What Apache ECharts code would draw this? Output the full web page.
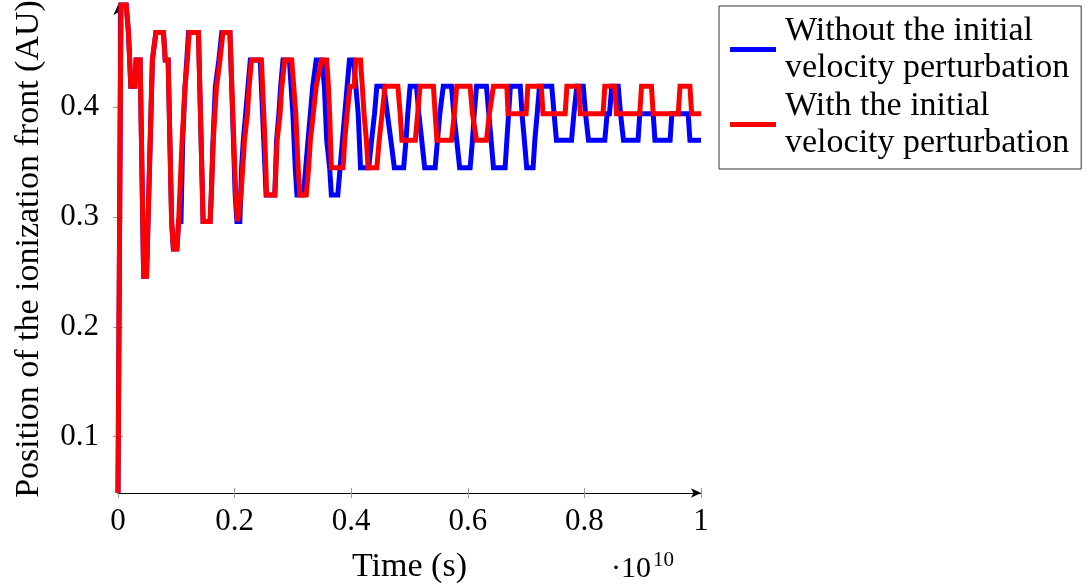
<!DOCTYPE html>
<html>
<head>
<meta charset="utf-8">
<script src="https://cdn.jsdelivr.net/npm/echarts@6/dist/echarts.min.js"></script>
<style>
html,body{margin:0;padding:0;background:#fff;}
#chart{width:1087px;height:588px;}
</style>
</head>
<body>
<div id="chart"></div>
<script>
// Time values in units of 1e8 s
const TIME_UNIT = 1e8;

const redTimes = [0,0.5,1.4,1.8,2.0,2.2,2.9,3.1,3.8,4.4,4.9,5.9,6.5,7.8,8.1,8.6,9.2,9.5,10.1,10.4,11.0,11.5,11.9,12.2,13.8,14.6,15.8,16.0,16.35,16.9,17.5,18.0,19.2,20.2,20.5,20.8,21.1,21.4,21.7,22.2,22.5,22.9,24.6,25.2,25.5,26.9,27.3,27.8,28.1,28.6,29.8,30.5,30.9,31.2,32.3,32.7,33.0,33.5,34.0,34.9,35.8,36.1,36.3,36.6,38.6,38.9,39.3,39.8,40.5,40.8,41.6,41.9,42.2,42.6,42.9,44.4,44.8,45.3,45.8,48.0,48.4,48.7,51.0,51.4,51.8,54.1,54.4,54.7,57.2,57.7,58.1,60.4,60.8,61.5,63.2,63.7,64.4,66.7,66.9,70.0,70.3,72.6,72.9,76.7,77.0,79.0,79.3,83.2,83.5,85.2,85.5,89.5,89.8,91.5,91.8,96.1,96.4,98.1,98.4,100];
const redValues = [0.049,0.493,0.493,0.468,0.443,0.419,0.419,0.443,0.443,0.246,0.246,0.443,0.468,0.468,0.443,0.443,0.296,0.271,0.271,0.296,0.370,0.419,0.443,0.468,0.468,0.296,0.296,0.320,0.370,0.419,0.443,0.468,0.468,0.320,0.296,0.296,0.320,0.345,0.370,0.394,0.419,0.443,0.443,0.370,0.320,0.320,0.370,0.394,0.419,0.443,0.443,0.394,0.345,0.320,0.320,0.345,0.370,0.394,0.419,0.443,0.443,0.419,0.394,0.345,0.345,0.370,0.394,0.419,0.419,0.443,0.443,0.419,0.394,0.370,0.345,0.345,0.370,0.394,0.419,0.419,0.394,0.370,0.370,0.394,0.419,0.419,0.394,0.370,0.370,0.394,0.419,0.419,0.394,0.370,0.370,0.394,0.419,0.419,0.394,0.394,0.419,0.419,0.394,0.394,0.419,0.419,0.394,0.394,0.419,0.419,0.394,0.394,0.419,0.419,0.394,0.394,0.419,0.419,0.394,0.394];

const blueTimes = [0,0.5,1.4,1.8,2.0,2.2,2.9,3.1,3.8,4.4,4.9,5.9,6.5,7.8,8.1,8.6,9.2,9.5,10.1,10.4,10.8,11.1,11.5,11.8,12.1,13.8,14.6,15.8,16.0,16.3,16.7,17.3,17.8,19.2,20.1,20.4,20.9,21.2,21.5,21.9,22.3,22.7,24.4,25.0,25.4,26.9,27.2,27.6,27.9,28.3,29.4,30.0,30.4,30.7,31.8,32.2,32.6,33.0,33.4,34.0,35.0,35.4,35.8,36.3,36.6,37.7,38.1,38.5,38.9,39.3,39.7,40.4,40.8,41.2,41.6,43.0,43.5,44.0,44.4,45.6,46.2,46.8,47.4,49.0,49.4,49.7,50.1,51.2,51.6,52.1,52.6,54.4,54.8,55.2,55.8,57.2,57.6,58.1,58.6,60.4,60.8,61.1,61.5,63.2,63.6,64.0,64.4,66.4,66.7,67.0,67.3,69.0,69.3,69.7,70.1,71.2,71.5,71.9,72.3,74.4,74.8,75.2,77.8,78.2,78.7,79.8,80.2,80.7,83.5,83.9,84.3,84.7,85.8,86.2,86.7,89.2,89.5,91.8,92.1,94.7,95.0,97.8,98.1,100];
const blueValues = [0.049,0.493,0.493,0.468,0.443,0.419,0.419,0.443,0.443,0.246,0.246,0.443,0.468,0.468,0.443,0.443,0.296,0.271,0.271,0.296,0.296,0.370,0.419,0.443,0.468,0.468,0.296,0.296,0.320,0.370,0.419,0.443,0.468,0.468,0.320,0.296,0.296,0.345,0.370,0.394,0.419,0.443,0.443,0.370,0.320,0.320,0.370,0.394,0.419,0.443,0.443,0.394,0.345,0.320,0.320,0.345,0.370,0.394,0.419,0.443,0.443,0.419,0.370,0.345,0.320,0.320,0.345,0.370,0.394,0.419,0.443,0.443,0.419,0.394,0.345,0.345,0.370,0.394,0.419,0.419,0.394,0.370,0.345,0.345,0.370,0.394,0.419,0.419,0.394,0.370,0.345,0.345,0.370,0.394,0.419,0.419,0.394,0.370,0.345,0.345,0.370,0.394,0.419,0.419,0.394,0.370,0.345,0.345,0.370,0.394,0.419,0.419,0.394,0.370,0.345,0.345,0.370,0.394,0.419,0.419,0.394,0.370,0.370,0.394,0.419,0.419,0.394,0.370,0.370,0.394,0.394,0.419,0.419,0.394,0.370,0.370,0.394,0.394,0.370,0.370,0.394,0.394,0.370,0.370];

const seriesNames = ['Without the initial\nvelocity perturbation', 'With the initial\nvelocity perturbation'];
const xTickLabels = ['0', '0.2', '0.4', '0.6', '0.8', '1'];
const yTickValues = [0.1, 0.2, 0.3, 0.4];
const yTickLabels = ['0.1', '0.2', '0.3', '0.4'];

const FONT = '"Liberation Serif", "Times New Roman", serif';

function pairs(ts, vs) { return ts.map((t, i) => [t * TIME_UNIT, vs[i]]); }

const chart = echarts.init(document.getElementById('chart'), null, {renderer: 'canvas'});

const tickStyle = {color: '#9a9a9a', width: 1};

chart.setOption({
  animation: false,
  backgroundColor: '#fff',
  grid: {left: 118, right: 386, top: 5, bottom: 95, containLabel: false, outerBoundsMode: 'none'},
  legend: {
    orient: 'vertical', left: 719, top: 6,
    icon: 'rect', itemWidth: 46, itemHeight: 5, itemGap: 0,
    borderColor: '#333', borderWidth: 1, padding: [6, 12, 7, 11],
    textStyle: {fontFamily: FONT, fontSize: 34, lineHeight: 37.5, color: '#000', padding: [0, 0, 0, 4]},
    data: seriesNames
  },
  xAxis: [{
    type: 'value', min: 0, max: 1e10, interval: 2e9,
    axisLine: {show: true, lineStyle: {color: '#000', width: 1.2}, symbol: ['none', 'arrow'], symbolSize: [7, 10]},
    axisTick: {show: true, length: 5, lineStyle: tickStyle},
    axisLabel: {
      margin: 13, color: '#000', fontFamily: FONT, fontSize: 31,
      formatter: v => xTickLabels[Math.round(v / 2e9)]
    },
    splitLine: {show: false},
    name: 'Time (s)', nameLocation: 'middle', nameGap: 57,
    nameTextStyle: {fontFamily: FONT, fontSize: 34, color: '#000'}
  }, {
    type: 'value', min: 0, max: 1e10, interval: 2e9, position: 'bottom',
    axisLine: {show: false},
    axisTick: {show: true, inside: true, length: 5, lineStyle: tickStyle},
    axisLabel: {show: false}, splitLine: {show: false}
  }],
  yAxis: [{
    type: 'value', min: 0.0487, max: 0.4931,
    axisLine: {show: true, lineStyle: {color: '#000', width: 1.2}, symbol: ['none', 'arrow'], symbolSize: [7, 10]},
    axisTick: {show: true, length: 5, lineStyle: tickStyle, customValues: yTickValues},
    axisLabel: {
      margin: 19, color: '#000', fontFamily: FONT, fontSize: 31,
      customValues: yTickValues,
      formatter: v => yTickLabels[yTickValues.findIndex(t => Math.abs(t - v) < 1e-6)] || ''
    },
    splitLine: {show: false},
    name: 'Position of the ionization front (AU)', nameLocation: 'middle', nameGap: 72,
    nameTextStyle: {fontFamily: FONT, fontSize: 34, color: '#000'}
  }, {
    type: 'value', min: 0.0487, max: 0.4931, position: 'left',
    axisLine: {show: false},
    axisTick: {show: true, inside: true, length: 5, lineStyle: tickStyle, customValues: yTickValues},
    axisLabel: {show: false}, splitLine: {show: false}
  }],
  series: [{
    name: seriesNames[0], type: 'line', data: pairs(blueTimes, blueValues),
    showSymbol: false, clip: false, color: '#0000ff',
    lineStyle: {color: '#0000ff', width: 5, join: 'miter', miterLimit: 2}
  }, {
    name: seriesNames[1], type: 'line', data: pairs(redTimes, redValues),
    showSymbol: false, clip: false, color: '#ff0000',
    lineStyle: {color: '#ff0000', width: 5, join: 'miter', miterLimit: 2}
  }],
  graphic: [
    {type: 'text', left: 611, top: 554, style: {text: '\u00b710', font: '30px ' + FONT, fill: '#000'}},
    {type: 'text', left: 653, top: 550, style: {text: '10', font: '21px ' + FONT, fill: '#000'}}
  ]
});
</script>
</body>
</html>
